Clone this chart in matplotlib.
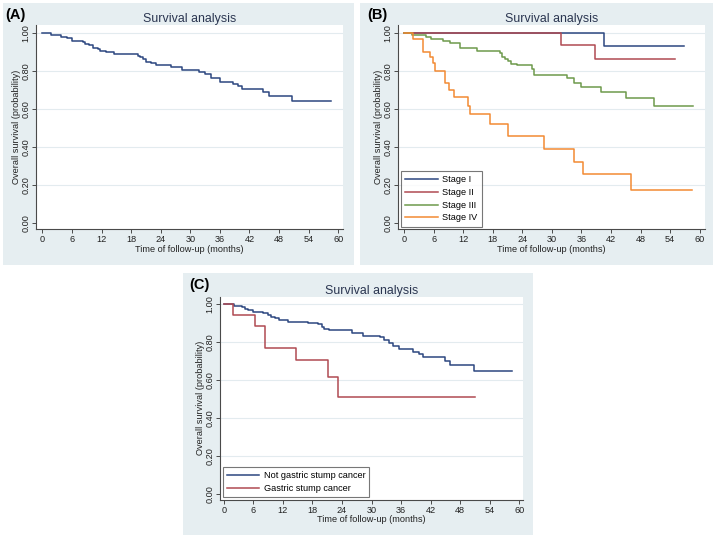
import matplotlib
matplotlib.use("Agg")
import matplotlib.pyplot as plt
from matplotlib.patches import Rectangle

plt.rcParams['font.family'] = ['Liberation Sans', 'DejaVu Sans']

# ---------------- data ----------------
x_ticks = [0, 6, 12, 18, 24, 30, 36, 42, 48, 54, 60]
y_ticks = [0.0, 0.2, 0.4, 0.6, 0.8, 1.0]

# Panel A: overall
tA = [0, 1.7, 3.8, 4.2, 5.1, 6.1, 8.2, 8.6, 9.5, 10.2, 11.2, 11.6, 12.9, 14.6,
      19.4, 19.8, 20.4, 21.0, 22.1, 23.1, 26.1, 28.4, 31.8, 33.0, 34.3, 36.0,
      38.6, 39.7, 40.5, 44.8, 45.9, 50.7, 58.5]
sA = [1.0, 0.989, 0.981, 0.977, 0.972, 0.960, 0.950, 0.944, 0.935, 0.923, 0.916,
      0.905, 0.898, 0.890, 0.881, 0.872, 0.861, 0.849, 0.840, 0.832, 0.820, 0.807,
      0.796, 0.786, 0.765, 0.742, 0.732, 0.720, 0.705, 0.688, 0.667, 0.644, 0.644]

# Panel B: by stage
stage_labels = ["Stage I", "Stage II", "Stage III", "Stage IV"]
tB1 = [0, 40.6, 56.8]
sB1 = [1.0, 0.933, 0.933]
tB2 = [0, 31.9, 38.7, 54.9]
sB2 = [1.0, 0.937, 0.861, 0.861]
tB3 = [0, 1.6, 4.4, 5.4, 8.0, 9.4, 11.4, 14.8, 19.4, 19.9, 20.5, 21.1, 21.8,
       23.0, 25.9, 26.4, 33.1, 34.5, 35.9, 39.9, 45.1, 50.8, 58.6]
sB3 = [1.0, 0.990, 0.979, 0.968, 0.960, 0.947, 0.920, 0.906, 0.893, 0.876, 0.862,
       0.850, 0.838, 0.830, 0.810, 0.779, 0.761, 0.737, 0.717, 0.691, 0.660, 0.615, 0.615]
tB4 = [0, 1.8, 3.8, 5.3, 5.9, 6.3, 8.4, 9.2, 10.1, 12.9, 13.3, 17.5, 21.1,
       28.4, 34.4, 36.3, 46.1, 58.4]
sB4 = [1.0, 0.967, 0.902, 0.872, 0.840, 0.802, 0.735, 0.700, 0.661, 0.616, 0.572,
       0.521, 0.458, 0.389, 0.323, 0.258, 0.172, 0.172]

# Panel C: gastric stump cancer
group_labels = ["Not gastric stump cancer", "Gastric stump cancer"]
tC1 = [0, 2.0, 3.7, 4.3, 5.0, 5.9, 7.9, 8.9, 9.5, 10.4, 11.3, 13.1, 17.2, 19.1,
       19.9, 20.4, 21.4, 26.0, 28.2, 31.7, 32.6, 33.6, 34.4, 35.5, 38.5, 39.7,
       40.4, 44.9, 46.0, 50.8, 58.6]
sC1 = [1.0, 0.993, 0.984, 0.977, 0.970, 0.960, 0.953, 0.944, 0.935, 0.926, 0.917,
       0.907, 0.900, 0.895, 0.882, 0.872, 0.863, 0.847, 0.835, 0.826, 0.814, 0.794,
       0.780, 0.763, 0.750, 0.738, 0.720, 0.700, 0.680, 0.650, 0.650]
tC2 = [0, 1.9, 6.3, 8.3, 14.7, 21.2, 23.1, 50.9]
sC2 = [1.0, 0.944, 0.887, 0.771, 0.706, 0.618, 0.513, 0.513]

# ---------------- style ----------------
W, H = 717, 539
BG = '#e6eef1'
GRID = '#e3ebef'
AXC = '#4a4a4a'
TITLEC = '#2a3550'
C_NAVY = '#2c4780'
C_MAROON = '#b04a52'
C_GREEN = '#6e9a4c'
C_ORANGE = '#f28a33'
LW = 1.1

fig = plt.figure(figsize=(W / 100, H / 100), dpi=100)
fig.patch.set_facecolor('white')


def px_rect(x0, y0, x1, y1):
    return [x0 / W, 1 - y1 / H, (x1 - x0) / W, (y1 - y0) / H]


def panel(bg, ax_box, xlim, ylim, letter, letter_xy):
    x0, y0, x1, y1 = bg
    fig.patches.append(Rectangle((x0 / W, 1 - y1 / H), (x1 - x0) / W, (y1 - y0) / H,
                                 transform=fig.transFigure, facecolor=BG,
                                 edgecolor='none', zorder=-10))
    ax = fig.add_axes(px_rect(*ax_box))
    ax.set_zorder(1)
    ax.set_facecolor('white')
    ax.set_xlim(*xlim)
    ax.set_ylim(*ylim)
    for s in ['top', 'right']:
        ax.spines[s].set_visible(False)
    for s in ['left', 'bottom']:
        ax.spines[s].set_color(AXC)
        ax.spines[s].set_linewidth(0.8)
    ax.set_xticks(x_ticks)
    ax.set_yticks(y_ticks)
    ax.set_yticklabels([f"{v:.2f}" for v in y_ticks], rotation=90, va='center')
    ax.tick_params(axis='both', labelsize=6.6, color=AXC, length=3, width=0.7,
                   pad=1.0, labelcolor='#222222')
    for v in y_ticks[1:]:
        ax.axhline(v, color=GRID, lw=0.8, zorder=0)
    ax.set_xlabel("Time of follow-up (months)", fontsize=6.6, labelpad=0.5, color='#222222')
    ax.set_ylabel("Overall survival (probability)", fontsize=6.6, labelpad=0.5, color='#222222')
    ax.set_title("Survival analysis", fontsize=8.9, color=TITLEC, pad=1.5)
    fig.text(letter_xy[0] / W, 1 - letter_xy[1] / H, letter, fontsize=10.5,
             fontweight='bold', ha='left', va='center', zorder=5)
    return ax


axA = panel((3, 3, 354, 265), (36, 25, 343, 229.3), (-1.28, 60.96), (-0.033, 1.042),
            "(A)", (5, 15))
axA.step(tA, sA, where='post', color=C_NAVY, lw=LW)

axB = panel((360, 3, 713, 265), (398, 25, 704.7, 229.3), (-1.22, 61.0), (-0.033, 1.042),
            "(B)", (367, 15))
for t, s, c, lab in zip([tB1, tB2, tB3, tB4], [sB1, sB2, sB3, sB4],
                        [C_NAVY, C_MAROON, C_GREEN, C_ORANGE], stage_labels):
    axB.step(t, s, where='post', color=c, lw=LW, label=lab)
legB = axB.legend(loc='lower left', fontsize=6.6, frameon=True, fancybox=False,
                  borderaxespad=0.3, handlelength=3.6, labelspacing=0.4,
                  borderpad=0.45, handletextpad=0.5)
legB.get_frame().set_edgecolor('#555555')
legB.get_frame().set_linewidth(0.8)

axC = panel((183, 273, 533, 535), (220, 296.7, 523.3, 500), (-0.75, 60.8), (-0.032, 1.04),
            "(C)", (189, 285))
for t, s, c, lab in zip([tC1, tC2], [sC1, sC2], [C_NAVY, C_MAROON], group_labels):
    axC.step(t, s, where='post', color=c, lw=LW, label=lab)
legC = axC.legend(loc='lower left', fontsize=6.6, frameon=True, fancybox=False,
                  borderaxespad=0.3, handlelength=3.5, labelspacing=0.4,
                  borderpad=0.45, handletextpad=0.5)
legC.get_frame().set_edgecolor('#555555')
legC.get_frame().set_linewidth(0.8)

fig.savefig("out.png", dpi=100, facecolor='white')
